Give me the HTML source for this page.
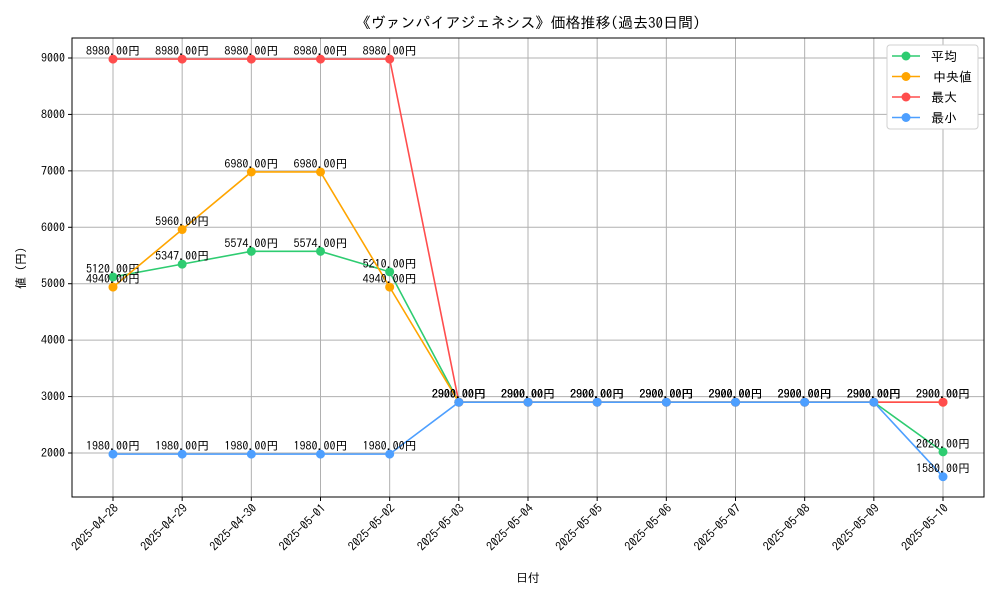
<!DOCTYPE html>
<html><head><meta charset="utf-8"><style>
body{margin:0;background:#fff;}
svg{font-family:"IPAGothic","Noto Sans CJK JP",sans-serif;}
</style></head><body>
<svg id="chart" width="1000" height="600"></svg>
<script>
const categories=["2025-04-28","2025-04-29","2025-04-30","2025-05-01","2025-05-02","2025-05-03","2025-05-04","2025-05-05","2025-05-06","2025-05-07","2025-05-08","2025-05-09","2025-05-10"];
const avgValues=[5120,5347,5574,5574,5210,2900,2900,2900,2900,2900,2900,2900,2020];
const medianValues=[4940,5960,6980,6980,4940,2900,2900,2900,2900,2900,2900,2900,2900];
const maxValues=[8980,8980,8980,8980,8980,2900,2900,2900,2900,2900,2900,2900,2900];
const minValues=[1980,1980,1980,1980,1980,2900,2900,2900,2900,2900,2900,2900,1580];
const yTicks=[2000,3000,4000,5000,6000,7000,8000,9000];
const seriesNames=["平均","中央値","最大","最小"];
const colors=["#2ecc71","#ffa500","#ff4d4d","#4d9fff"];
const L=72,R=984,T=38,B=497;
const x=i=>113+i*(943-113)/(categories.length-1);
const y=v=>453-(v-2000)*(453-58)/7000;
const svg=document.getElementById('chart');
const NS="http://www.w3.org/2000/svg";
function mk(tag,attrs,parent){const e=document.createElementNS(NS,tag);for(const k in attrs)e.setAttribute(k,attrs[k]);(parent||svg).appendChild(e);return e;}
categories.forEach((c,i)=>{const g=mk('line',{x1:x(i),x2:x(i),y1:T,y2:B,stroke:'#b0b0b0','stroke-width':1});

});
yTicks.forEach(v=>{const g=mk('line',{x1:L,x2:R,y1:y(v),y2:y(v),stroke:'#b0b0b0','stroke-width':1});


mk('line',{x1:L-4,x2:L,y1:y(v),y2:y(v),stroke:'#000'});
const t=mk('text',{x:L-7,y:y(v)+4,'text-anchor':'end','font-size':12});t.textContent=v;

});
categories.forEach((c,i)=>{mk('line',{x1:x(i),x2:x(i),y1:B,y2:B+4,stroke:'#000'});
const t=mk('text',{x:x(i)+6,y:B+12,'text-anchor':'end','font-size':12,transform:`rotate(-45 ${x(i)+6} ${B+12})`});t.textContent=c;

});
const frame=mk('rect',{x:L,y:T,width:R-L,height:B-T,fill:'none',stroke:'#000','stroke-width':1});


const all=[avgValues,medianValues,maxValues,minValues];
all.forEach((vals,s)=>{
 const p=mk('polyline',{points:vals.map((v,i)=>x(i)+','+y(v)).join(' '),fill:'none',stroke:colors[s],'stroke-width':1.6});
 
 
 vals.forEach((v,i)=>{const c=mk('circle',{cx:x(i),cy:y(v),r:4.5,fill:colors[s]});
 
 
 const t=mk('text',{x:x(i),y:y(v)-4,'text-anchor':'middle','font-size':12});t.textContent=v.toFixed(2)+'円';
 
 });
});
const title=mk('text',{x:528,y:28,'text-anchor':'middle','font-size':15});title.textContent='《ヴァンパイアジェネシス》価格推移(過去30日間)';


const xt=mk('text',{x:528,y:582,'text-anchor':'middle','font-size':12});xt.textContent='日付';


const yt=mk('text',{x:25,y:268,'text-anchor':'middle','font-size':12,transform:'rotate(-90 25 268)'});yt.textContent='値 (円)';


const lg=mk('rect',{x:887,y:45,width:91,height:84,fill:'#fff',stroke:'#d0d0d0',rx:3});


seriesNames.forEach((n,s)=>{const ly=56+s*20.5;
 mk('line',{x1:892,x2:920,y1:ly,y2:ly,stroke:colors[s],'stroke-width':1.6});
 mk('circle',{cx:906,cy:ly,r:4.5,fill:colors[s]});
 const t=mk('text',{x:s==1?933:931,y:ly+5,'font-size':13});t.textContent=n;
 
 });
</script>
</body></html>
